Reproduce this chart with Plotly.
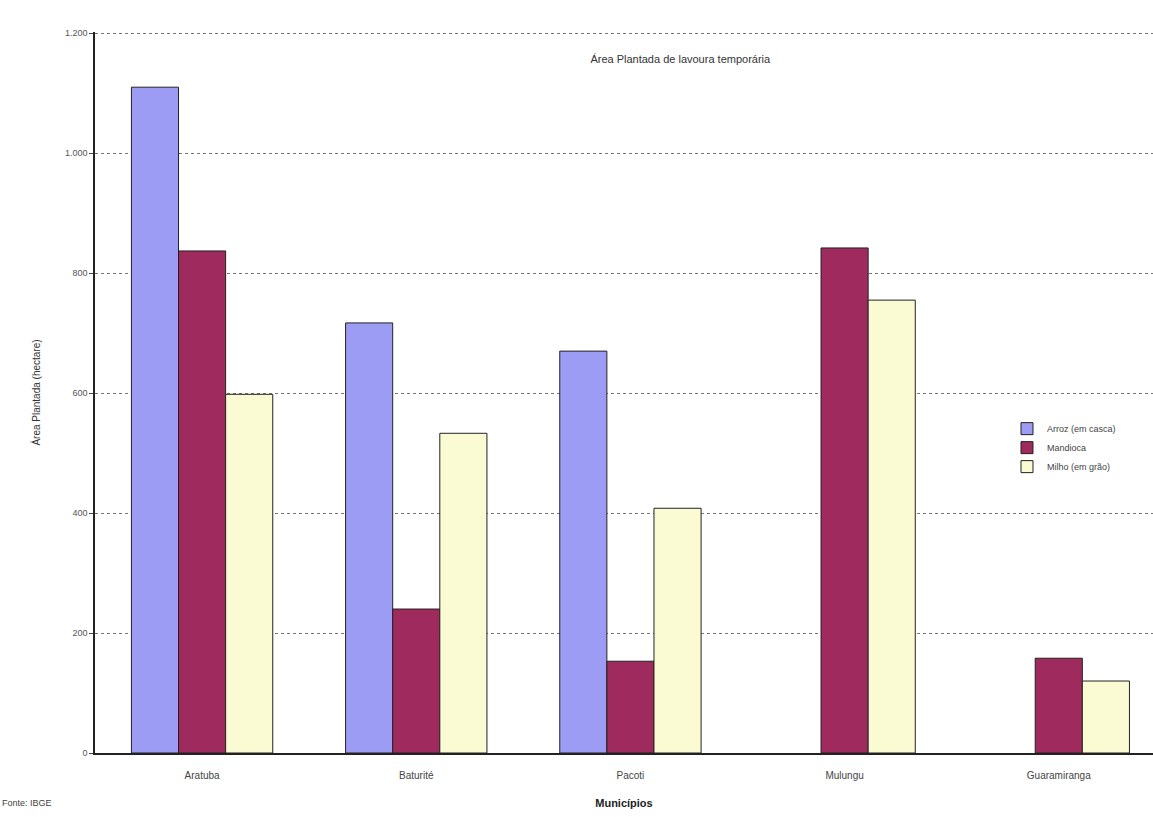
import plotly.graph_objects as go

# Área plantada por município (hectares); None = sem produção registrada
municipios = ["Aratuba", "Baturité", "Pacoti", "Mulungu", "Guaramiranga"]
arroz = [1110, 717, 670, None, None]
mandioca = [837, 240, 153, 842, 158]
milho = [598, 533, 408, 755, 120]

serie_nomes = ["Arroz (em casca)", "Mandioca", "Milho (em grão)"]
serie_valores = [arroz, mandioca, milho]
serie_cores = ["#9c9cf4", "#9e2a5e", "#fbfbd3"]

y_ticks = [0, 200, 400, 600, 800, 1000, 1200]

fig = go.Figure()
for nome, valores, cor in zip(serie_nomes, serie_valores, serie_cores):
    fig.add_trace(go.Bar(
        x=municipios, y=valores, name=nome,
        marker=dict(color=cor, line=dict(color="#222222", width=1)),
    ))

fig.update_layout(
    width=1153, height=817,
    margin=dict(l=95, r=0, t=32, b=64),
    paper_bgcolor="white", plot_bgcolor="white",
    barmode="group", bargap=0.34, bargroupgap=0,
    separators=",.",
    font=dict(family="Liberation Sans, Arial, sans-serif", color="#444"),
    title=dict(text="Área Plantada de lavoura temporária",
               x=0.59, xanchor="center", y=0.928, yanchor="middle",
               font=dict(size=11, color="#333")),
    showlegend=True,
    legend=dict(x=0.862, y=0.47, xanchor="left", yanchor="top",
                bgcolor="rgba(255,255,255,0)", font=dict(size=9, color="#444"),
                itemwidth=30, tracegroupgap=10),
    xaxis=dict(range=[-0.5, 4.44], showline=True, linecolor="#222", linewidth=1.5,
               ticks="", ticklabelstandoff=12, tickfont=dict(size=10, color="#444"),
               title=dict(text="<b>Municípios</b>", font=dict(size=11, color="#222"),
                          standoff=20)),
    yaxis=dict(range=[0, 1202], tickvals=y_ticks, tickformat=",d",
               showline=True, linecolor="#222", linewidth=1.5,
               ticks="outside", ticklen=4, tickcolor="#444",
               tickfont=dict(size=9, color="#555"),
               showgrid=True, gridcolor="#777", griddash="dot", gridwidth=1,
               zeroline=False,
               title=dict(text="Área Plantada (hectare)", font=dict(size=10, color="#333"),
                          standoff=22)),
)

fig.add_annotation(text="Fonte: IBGE", xref="paper", yref="paper", x=-0.09, y=-0.07,
                   xanchor="left", yanchor="middle", showarrow=False,
                   font=dict(size=9, color="#444"))

fig.write_html("out.html")
